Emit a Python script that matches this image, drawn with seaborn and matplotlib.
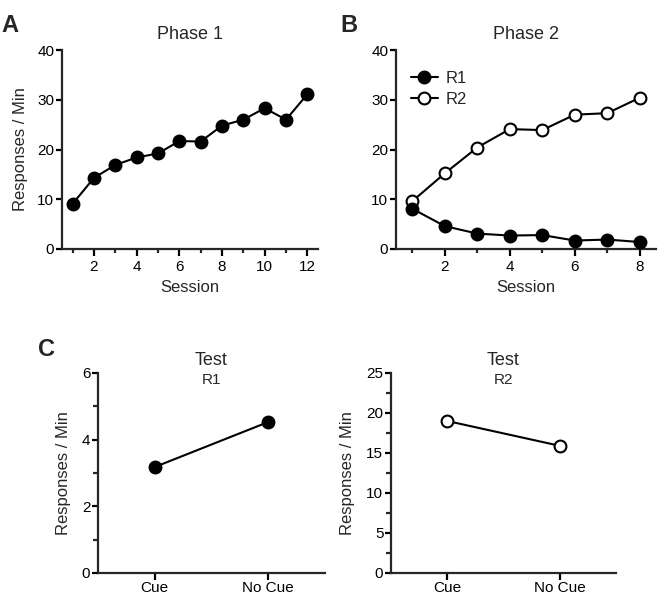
import matplotlib
matplotlib.use("Agg")
import matplotlib.pyplot as plt
import seaborn as sns
from matplotlib.ticker import MultipleLocator

# data
phase1_sessions = [1, 2, 3, 4, 5, 6, 7, 8, 9, 10, 11, 12]
phase1_rate = [9.1, 14.3, 16.9, 18.4, 19.2, 21.7, 21.6, 24.8, 26.0, 28.3, 26.0, 31.1]

phase2_sessions = [1, 2, 3, 4, 5, 6, 7, 8]
phase2_r1 = [8.1, 4.6, 3.1, 2.7, 2.8, 1.7, 1.9, 1.4]
phase2_r2 = [9.6, 15.2, 20.4, 24.1, 23.9, 27.0, 27.3, 30.4]

test_conditions = ["Cue", "No Cue"]
test_r1 = [3.18, 4.53]
test_r2 = [19.0, 15.9]

sns.set_style("ticks")
plt.rcParams['font.family'] = ['Liberation Sans', 'DejaVu Sans']
plt.rcParams['axes.linewidth'] = 1.6
plt.rcParams['xtick.major.width'] = 1.6
plt.rcParams['ytick.major.width'] = 1.6
plt.rcParams['xtick.minor.width'] = 1.6
plt.rcParams['ytick.minor.width'] = 1.6
plt.rcParams['xtick.major.size'] = 5
plt.rcParams['ytick.major.size'] = 4.5
plt.rcParams['xtick.minor.size'] = 3
plt.rcParams['ytick.minor.size'] = 3.5
plt.rcParams['xtick.labelsize'] = 11
plt.rcParams['ytick.labelsize'] = 11
plt.rcParams['xtick.major.pad'] = 3
plt.rcParams['ytick.major.pad'] = 1

fig = plt.figure(figsize=(6.67, 5.99), dpi=100)
W, H = 667, 599

def add_axes(l, t, r, b):
    return fig.add_axes([l / W, 1 - b / H, (r - l) / W, (b - t) / H])

axA = add_axes(62, 50, 318, 249)
axB = add_axes(396, 50, 656, 249)
axC1 = add_axes(98, 373, 325, 573)
axC2 = add_axes(391, 373, 616, 573)

mk = dict(marker='o', markersize=8.5, markeredgecolor='black', markeredgewidth=1.5,
          color='black', linewidth=1.5)

# Panel A
sns.lineplot(x=phase1_sessions, y=phase1_rate, ax=axA, **mk)
axA.set_xlim(0.5, 12.5)
axA.set_ylim(0, 40)
axA.set_xticks([2, 4, 6, 8, 10, 12])
axA.xaxis.set_minor_locator(MultipleLocator(1))
axA.set_yticks([0, 10, 20, 30, 40])
axA.set_xlabel("Session", fontsize=12, labelpad=4)
axA.set_ylabel("Responses / Min", fontsize=12, labelpad=7)
axA.set_title("Phase 1", fontsize=13, pad=8)

# Panel B
sns.lineplot(x=phase2_sessions, y=phase2_r1, ax=axB, label="R1", zorder=3, **mk)
sns.lineplot(x=phase2_sessions, y=phase2_r2, ax=axB, label="R2", markerfacecolor='white', zorder=2, **mk)
axB.set_xlim(0.5, 8.5)
axB.set_ylim(0, 40)
axB.set_xticks([2, 4, 6, 8])
axB.xaxis.set_minor_locator(MultipleLocator(1))
axB.set_yticks([0, 10, 20, 30, 40])
axB.set_xlabel("Session", fontsize=12, labelpad=4)
axB.set_ylabel("")
axB.set_title("Phase 2", fontsize=13, pad=8)
axB.legend(loc='upper left', bbox_to_anchor=(0.0, 0.97), frameon=False, fontsize=12,
           handlelength=1.6, handletextpad=0.5, labelspacing=0.35)

# Panel C - R1
sns.lineplot(x=test_conditions, y=test_r1, ax=axC1, **mk)
axC1.set_xlim(-0.5, 1.5)
axC1.set_ylim(0, 6)
axC1.set_yticks([0, 2, 4, 6])
axC1.yaxis.set_minor_locator(MultipleLocator(1))
axC1.set_ylabel("Responses / Min", fontsize=12, labelpad=8)
axC1.set_title("Test", fontsize=13, pad=6)
axC1.text(0.5, 0.965, "R1", transform=axC1.transAxes, ha='center', va='center', fontsize=11)
axC1.tick_params(axis='x', length=5, pad=1)

# Panel C - R2
sns.lineplot(x=test_conditions, y=test_r2, ax=axC2, markerfacecolor='white', **mk)
axC2.set_xlim(-0.5, 1.5)
axC2.set_ylim(0, 25)
axC2.set_yticks([0, 5, 10, 15, 20, 25])
axC2.yaxis.set_minor_locator(MultipleLocator(2.5))
axC2.set_ylabel("Responses / Min", fontsize=12, labelpad=8)
axC2.set_title("Test", fontsize=13, pad=6)
axC2.text(0.5, 0.965, "R2", transform=axC2.transAxes, ha='center', va='center', fontsize=11)
axC2.tick_params(axis='x', length=5, pad=1)

for ax in [axA, axB, axC1, axC2]:
    sns.despine(ax=ax)
    ax.tick_params(colors='black')
    for line in ax.lines:
        line.set_clip_on(False)

# panel letters
fig.text(1 / W, 1 - 25 / H, "A", fontsize=17, fontweight='bold', va='center')
fig.text(340 / W, 1 - 25 / H, "B", fontsize=17, fontweight='bold', va='center')
fig.text(38 / W, 1 - 350 / H, "C", fontsize=17, fontweight='bold', va='center')

fig.savefig("out.png", dpi=100)
